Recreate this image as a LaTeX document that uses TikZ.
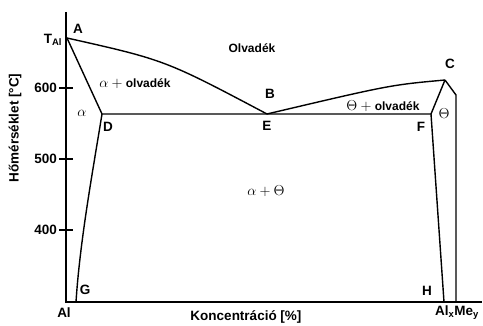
\documentclass[tikz,border=0pt]{standalone}
\usepackage{fontspec}
\setmainfont{Liberation Sans}
\usetikzlibrary{calc}
\tikzset{
  lbl/.style={font=\fontsize{13.5}{15}\selectfont\bfseries,inner sep=0pt},
  sml/.style={font=\fontsize{12}{14}\selectfont\bfseries,inner sep=0pt},
  grk/.style={font=\fontsize{15}{17}\selectfont,inner sep=0pt},
  ln/.style={line width=1.4pt},
}
\begin{document}
\begin{tikzpicture}[x=1pt,y=-1pt]
\useasboundingbox (0,0) rectangle (483,326);
\coordinate (O) at (66,302);
\coordinate (Y) at (66,12);
\coordinate (X) at (482,302);
\coordinate (A) at (67,38);
\coordinate (D) at (102,114);
\coordinate (E) at (267,114);
\coordinate (C) at (445,80);
\coordinate (F) at (431,114);
\coordinate (K) at (456,95);
\coordinate (G) at (76,302);
\coordinate (H) at (444,302);
\coordinate (M) at (456,302);
\draw[ln] (Y)--(O)--(X);
\foreach \t/\yy in {600/88,500/159,400/230}{
  \draw[ln] (59,\yy)--(73,\yy);
  \node[lbl,anchor=east] at (57,\yy) {\t};
}
\draw[ln] (A) .. controls (165,60) .. (E);
\draw[ln] (E) .. controls (390,85) .. (C);
\draw[ln] (A)--(D)--(F);
\draw[ln] (D) .. controls (93,170) and (80,240) .. (G);
\draw[ln] (C)--(F)--(H);
\draw[ln] (C)--(K)--(M);
\node[lbl] (lA) at (78,29) {A};
\node[lbl] (lT) at (53,40) {T\textsubscript{Al}};
\node[sml] (lL) at (252,48) {Olvadék};
\node[grk] (lAL) at (135,84) {$\alpha+{}$\fontsize{12}{14}\selectfont\bfseries olvadék};
\node[lbl] (lB) at (270,94) {B};
\node[lbl] (lC) at (450,64) {C};
\node[grk] (lTL) at (383,106) {$\Theta+{}$\fontsize{12}{14}\selectfont\bfseries olvadék};
\node[grk] (la) at (82,113) {$\alpha$};
\node[lbl] (lD) at (108,127) {D};
\node[lbl] (lE) at (267,126) {E};
\node[lbl] (lF) at (421,127) {F};
\node[grk] (lth) at (444,114) {$\Theta$};
\node[grk] (lat) at (266,191) {$\alpha+\Theta$};
\node[lbl] (lG) at (85,290) {G};
\node[lbl] (lH) at (427,291) {H};
\node[lbl] (lAl) at (64,313) {Al};
\node[lbl] (lK) at (246,317) {Koncentráció [\%]};
\node[lbl] (lM) at (457,313) {Al\textsubscript{x}Me\textsubscript{y}};
\node[lbl,rotate=90] (lY) at (15,128) {Hőmérséklet [°C]};
\end{tikzpicture}
\end{document}
